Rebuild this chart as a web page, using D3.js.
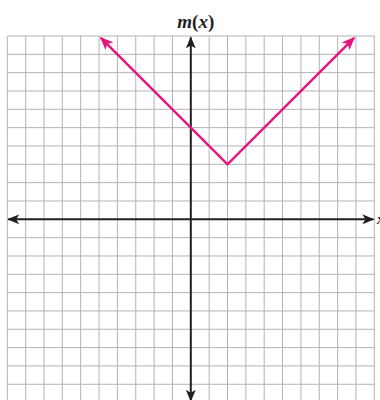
<!DOCTYPE html>
<html>
<head>
<meta charset="utf-8">
<script src="https://cdn.jsdelivr.net/npm/d3@7"></script>
<style>
  html, body { margin: 0; padding: 0; background: #fff; }
  svg { display: block; }
</style>
</head>
<body>
<div id="chart"></div>
<script>
// data
const xDomain = [-10, 10];
const yDomain = [-10, 10];
const mX = [-4.9, 2, 8.9];   // m(x) = |x - 2| + 3, drawn from tip to tip
const mY = [9.9, 3, 9.9];
const funcLabel = ["m", "(", "x", ")"];
const axisLabel = "x";

const width = 380;
const height = 400;

const svg = d3.select("#chart")
    .append("svg")
    .attr("width", width)
    .attr("height", height);

const x = d3.scaleLinear().domain(xDomain).range([7.3, 374.3]);
const y = d3.scaleLinear().domain(yDomain).range([402.6, 36]);

// arrowheads
const defs = svg.append("defs");
function marker(id, color, w, h) {
    defs.append("marker")
        .attr("id", id)
        .attr("viewBox", "0 0 12 10")
        .attr("refX", 11)
        .attr("refY", 5)
        .attr("markerUnits", "userSpaceOnUse")
        .attr("markerWidth", w)
        .attr("markerHeight", h)
        .attr("orient", "auto-start-reverse")
        .append("path")
        .attr("d", "M0,0 L12,5 L0,10 L3,5 Z")
        .attr("fill", color);
}
marker("arrAxis", "#231f20", 12, 10);
marker("arrFunc", "#e5147f", 13, 11);

// grid
const grid = svg.append("g").attr("stroke", "#b3b3b5").attr("stroke-width", 1);
grid.selectAll("line.v")
    .data(x.ticks(20))
    .join("line")
    .attr("class", "v")
    .attr("x1", d => x(d)).attr("x2", d => x(d))
    .attr("y1", y(10)).attr("y2", y(-10));
grid.selectAll("line.h")
    .data(y.ticks(20))
    .join("line")
    .attr("class", "h")
    .attr("y1", d => y(d)).attr("y2", d => y(d))
    .attr("x1", x(-10)).attr("x2", x(10));

// axes
const axes = svg.append("g").attr("stroke", "#231f20").attr("stroke-width", 2);
axes.append("line")
    .attr("x1", x(-9.95)).attr("x2", x(9.95))
    .attr("y1", y(0)).attr("y2", y(0))
    .attr("marker-start", "url(#arrAxis)")
    .attr("marker-end", "url(#arrAxis)");
axes.append("line")
    .attr("x1", x(0)).attr("x2", x(0))
    .attr("y1", y(-9.9)).attr("y2", y(9.92))
    .attr("marker-start", "url(#arrAxis)")
    .attr("marker-end", "url(#arrAxis)");

// function m(x)
const pts = mX.map((d, i) => [d, mY[i]]);
svg.append("path")
    .datum(pts)
    .attr("d", d3.line().x(d => x(d[0])).y(d => y(d[1])))
    .attr("fill", "none")
    .attr("stroke", "#e5147f")
    .attr("stroke-width", 2.5)
    .attr("stroke-linejoin", "miter")
    .attr("marker-start", "url(#arrFunc)")
    .attr("marker-end", "url(#arrFunc)");

// labels
const lab = svg.append("text")
    .attr("x", x(0) + 5)
    .attr("y", 28)
    .attr("text-anchor", "middle")
    .attr("font-family", "'Liberation Serif', 'DejaVu Serif', serif")
    .attr("font-size", 19)
    .attr("font-weight", "bold")
    .attr("fill", "#231f20");
lab.selectAll("tspan")
    .data(funcLabel)
    .join("tspan")
    .attr("font-style", d => (d === "(" || d === ")") ? "normal" : "italic")
    .text(d => d);

svg.append("text")
    .attr("x", 377)
    .attr("y", y(0) + 5)
    .attr("font-family", "'Liberation Serif', serif")
    .attr("font-size", 15)
    .attr("font-style", "italic")
    .attr("font-weight", "bold")
    .attr("fill", "#231f20")
    .text(axisLabel);
</script>
</body>
</html>
